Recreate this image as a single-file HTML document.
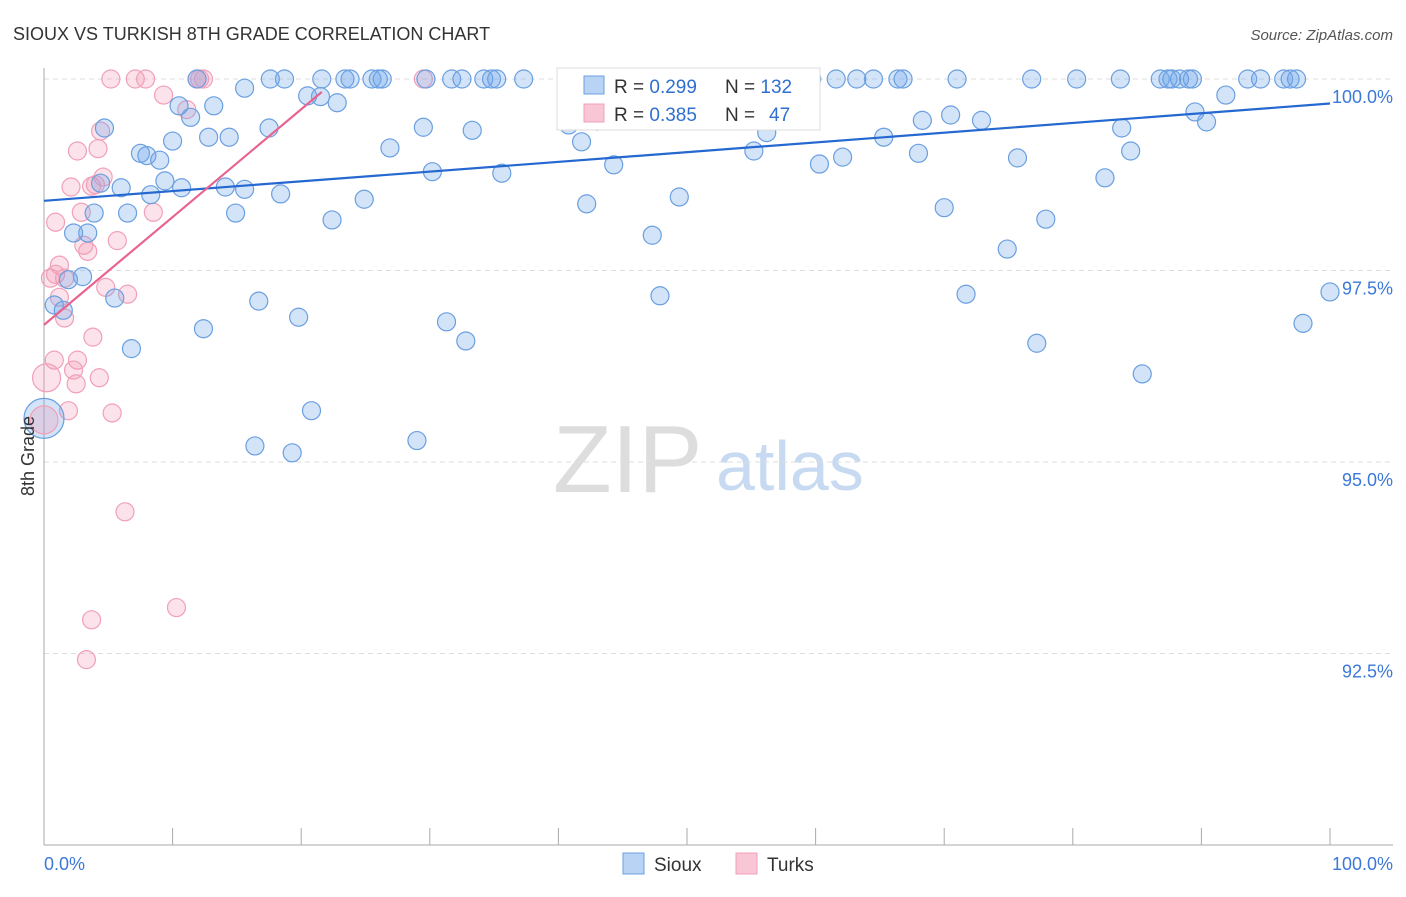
<!DOCTYPE html>
<html><head><meta charset="utf-8"><style>
body{margin:0;background:#fff;font-family:"Liberation Sans",sans-serif;}
svg text{font-family:"Liberation Sans",sans-serif;}
</style></head><body>
<svg id="c" width="1406" height="892" viewBox="0 0 1406 892">
<text x="13" y="40" font-size="18" fill="#333">SIOUX VS TURKISH 8TH GRADE CORRELATION CHART</text>
<text x="1393" y="40" font-size="15" fill="#555" font-style="italic" text-anchor="end">Source: ZipAtlas.com</text>
<g>
<text x="553" y="492" font-size="96" fill="#ddd" font-family="Liberation Serif,serif">ZIP</text>
<text x="716" y="490" font-size="70" fill="#c8daf2">atlas</text>
</g>
<g id="grid"></g>
<g id="axes"></g>
<g id="pts"></g>
<g id="trend"></g>
<text transform="translate(34,456) rotate(-90)" font-size="18" fill="#333" text-anchor="middle">8th Grade</text>
<g>
<rect x="557" y="68" width="263" height="62" fill="#fff" stroke="#ddd"/>
<rect x="584" y="76" width="20" height="18" fill="#b9d3f5" stroke="#6a9fe0"/>
<rect x="584" y="104" width="20" height="18" fill="#f9c6d6" stroke="#f0a0b8"/>
<text x="614" y="93" font-size="19" fill="#333">R = <tspan fill="#2f6fd0">0.299</tspan><tspan x="725">N = </tspan><tspan fill="#2f6fd0">132</tspan></text>
<text x="614" y="121" font-size="19" fill="#333">R = <tspan fill="#2f6fd0">0.385</tspan><tspan x="725">N = </tspan><tspan fill="#2f6fd0" x="769">47</tspan></text>
</g>
<g>
<rect x="623" y="853" width="21" height="21" fill="#b9d3f5" stroke="#6a9fe0"/>
<text x="654" y="871" font-size="19" fill="#333">Sioux</text>
<rect x="736" y="853" width="21" height="21" fill="#f9c6d6" stroke="#f0a0b8"/>
<text x="767" y="871" font-size="19" fill="#333">Turks</text>
</g>
</svg>
<script>
const xTickLabels=["0.0%","100.0%"];
const yTicks=[100,97.5,95,92.5];
const yTickLabels=["100.0%","97.5%","95.0%","92.5%"];
const siouxX=[11.9,17.6,18.7,21.6,23.4,23.8,25.5,26.0,26.3,29.7,31.7,32.5,34.2,34.8,35.2,37.3,59.7,61.6,63.2,64.5,66.4,66.8,71.0,76.8,80.3,83.7,86.8,87.4,87.7,88.3,89.0,89.3,93.6,94.6,96.4,96.9,97.4,
15.6,20.5,21.5,22.8,10.5,13.2,11.4,4.7,17.5,29.5,33.3,12.8,14.4,10.0,41.8,26.9,7.5,8.0,9.0,55.2,56.2,62.1,60.3,65.3,68.0,70.5,68.3,72.9,75.7,83.8,84.5,89.5,90.4,91.9,82.5,44.3,30.2,35.6,9.4,4.4,6.0,10.7,14.1,15.6,18.4,8.3,24.9,49.4,42.2,70.0,3.9,6.5,14.9,22.4,77.9,2.3,3.4,47.3,74.9,3.0,1.9,0.8,5.5,1.5,16.7,47.9,71.7,100,97.9,19.8,12.4,31.3,32.8,6.8,77.2,85.4,20.8,16.4,19.3,29.0,40.8,43.0];
const siouxY=[100,100,100,100,100,100,100,100,100,100,100,100,100,100,100,100,100,100,100,100,100,100,100,100,100,100,100,100,100,100,100,100,100,100,100,100,100,
99.88,99.78,99.77,99.69,99.65,99.65,99.5,99.36,99.36,99.37,99.33,99.24,99.24,99.19,99.18,99.1,99.03,99.0,98.94,99.06,99.3,98.98,98.89,99.24,99.03,99.53,99.46,99.46,98.97,99.36,99.06,99.57,99.44,99.79,98.71,98.88,98.79,98.77,98.67,98.64,98.58,98.58,98.59,98.56,98.5,98.49,98.43,98.46,98.37,98.32,98.25,98.25,98.25,98.16,98.17,97.99,97.99,97.96,97.78,97.42,97.38,97.05,97.14,96.98,97.1,97.17,97.19,97.22,96.81,96.89,96.74,96.83,96.58,96.48,96.55,96.15,95.67,95.21,95.12,95.28,99.4,99.45];
const turksX=[5.2,7.1,7.9,11.9,12.1,12.4,29.5,9.3,11.1,4.4,4.2,2.6,2.1,3.7,4.6,4.0,2.9,8.5,0.9,5.7,3.1,3.4,1.2,0.9,1.6,0.5,4.8,6.5,1.2,1.6,3.8,0.8,2.6,2.3,2.5,4.3,1.9,5.3,6.3,10.3,3.7,3.3];
const turksY=[100,100,100,100,100,100,100,99.79,99.6,99.32,99.09,99.06,98.59,98.6,98.72,98.62,98.26,98.26,98.13,97.89,97.83,97.75,97.57,97.45,97.4,97.4,97.28,97.19,97.15,96.88,96.63,96.33,96.33,96.2,96.02,96.1,95.67,95.64,94.35,93.1,92.94,92.42];
const bigX=[0,0.2,0];const bigY=[95.57,96.1,95.55];const bigS=["s","t","t"];
const siouxTrend=[[0,98.41],[100,99.68]];
const turksTrend=[[0,96.79],[21.6,99.83]];

const NS="http://www.w3.org/2000/svg";
const X=v=>44+v*12.86;
const Y=v=>79+(100-v)*76.6;
function mk(t,a,p){const e=document.createElementNS(NS,t);for(const k in a)e.setAttribute(k,a[k]);p.appendChild(e);return e;}
const grid=document.getElementById('grid'),axes=document.getElementById('axes'),pts=document.getElementById('pts'),tr=document.getElementById('trend');
yTicks.forEach((t,i)=>{
 const l=mk('line',{x1:44,x2:1393,y1:Y(t),y2:Y(t),stroke:'#ddd','stroke-dasharray':'5,4'},grid);
 
 
 const tx=mk('text',{x:1393,y:Y(t)+24,'font-size':18,fill:'#3b78d8','text-anchor':'end'},axes);
 tx.textContent=yTickLabels[i];
 
 
});
mk('line',{x1:44,x2:44,y1:68,y2:845,stroke:'#aaa'},axes);
mk('line',{x1:44,x2:1393,y1:845,y2:845,stroke:'#aaa'},axes);
for(let i=0;i<=10;i++){const t=mk('line',{x1:X(i*10),x2:X(i*10),y1:828,y2:845,stroke:'#aaa'},axes);
 
 }
const a0=mk('text',{x:44,y:870,'font-size':18,fill:'#3b78d8'},axes);a0.textContent=xTickLabels[0];


const a1=mk('text',{x:1393,y:870,'font-size':18,fill:'#3b78d8','text-anchor':'end'},axes);a1.textContent=xTickLabels[1];


const BF='rgba(110,165,235,0.3)',BS='#6a9fe0',PF='rgba(245,150,180,0.28)',PS='#f0a0b8';
turksX.forEach((v,i)=>{const c=mk('circle',{cx:X(v),cy:Y(turksY[i]),r:9,fill:PF,stroke:PS,'stroke-width':1.2},pts);
 
 });
siouxX.forEach((v,i)=>{const c=mk('circle',{cx:X(v),cy:Y(siouxY[i]),r:9,fill:BF,stroke:BS,'stroke-width':1.2},pts);
 
 });
bigX.forEach((v,i)=>{const s=bigS[i]=='s';const c=mk('circle',{cx:X(v),cy:Y(bigY[i]),r:s?20:14,fill:s?BF:PF,stroke:s?BS:PS,'stroke-width':1.2},pts);
 
 });
const l1=mk('line',{x1:X(siouxTrend[0][0]),y1:Y(siouxTrend[0][1]),x2:X(siouxTrend[1][0]),y2:Y(siouxTrend[1][1]),stroke:'#2468d0','stroke-width':2.2},tr);


const l2=mk('line',{x1:X(turksTrend[0][0]),y1:Y(turksTrend[0][1]),x2:X(turksTrend[1][0]),y2:Y(turksTrend[1][1]),stroke:'#e8648e','stroke-width':2.2},tr);


</script>
</body></html>
